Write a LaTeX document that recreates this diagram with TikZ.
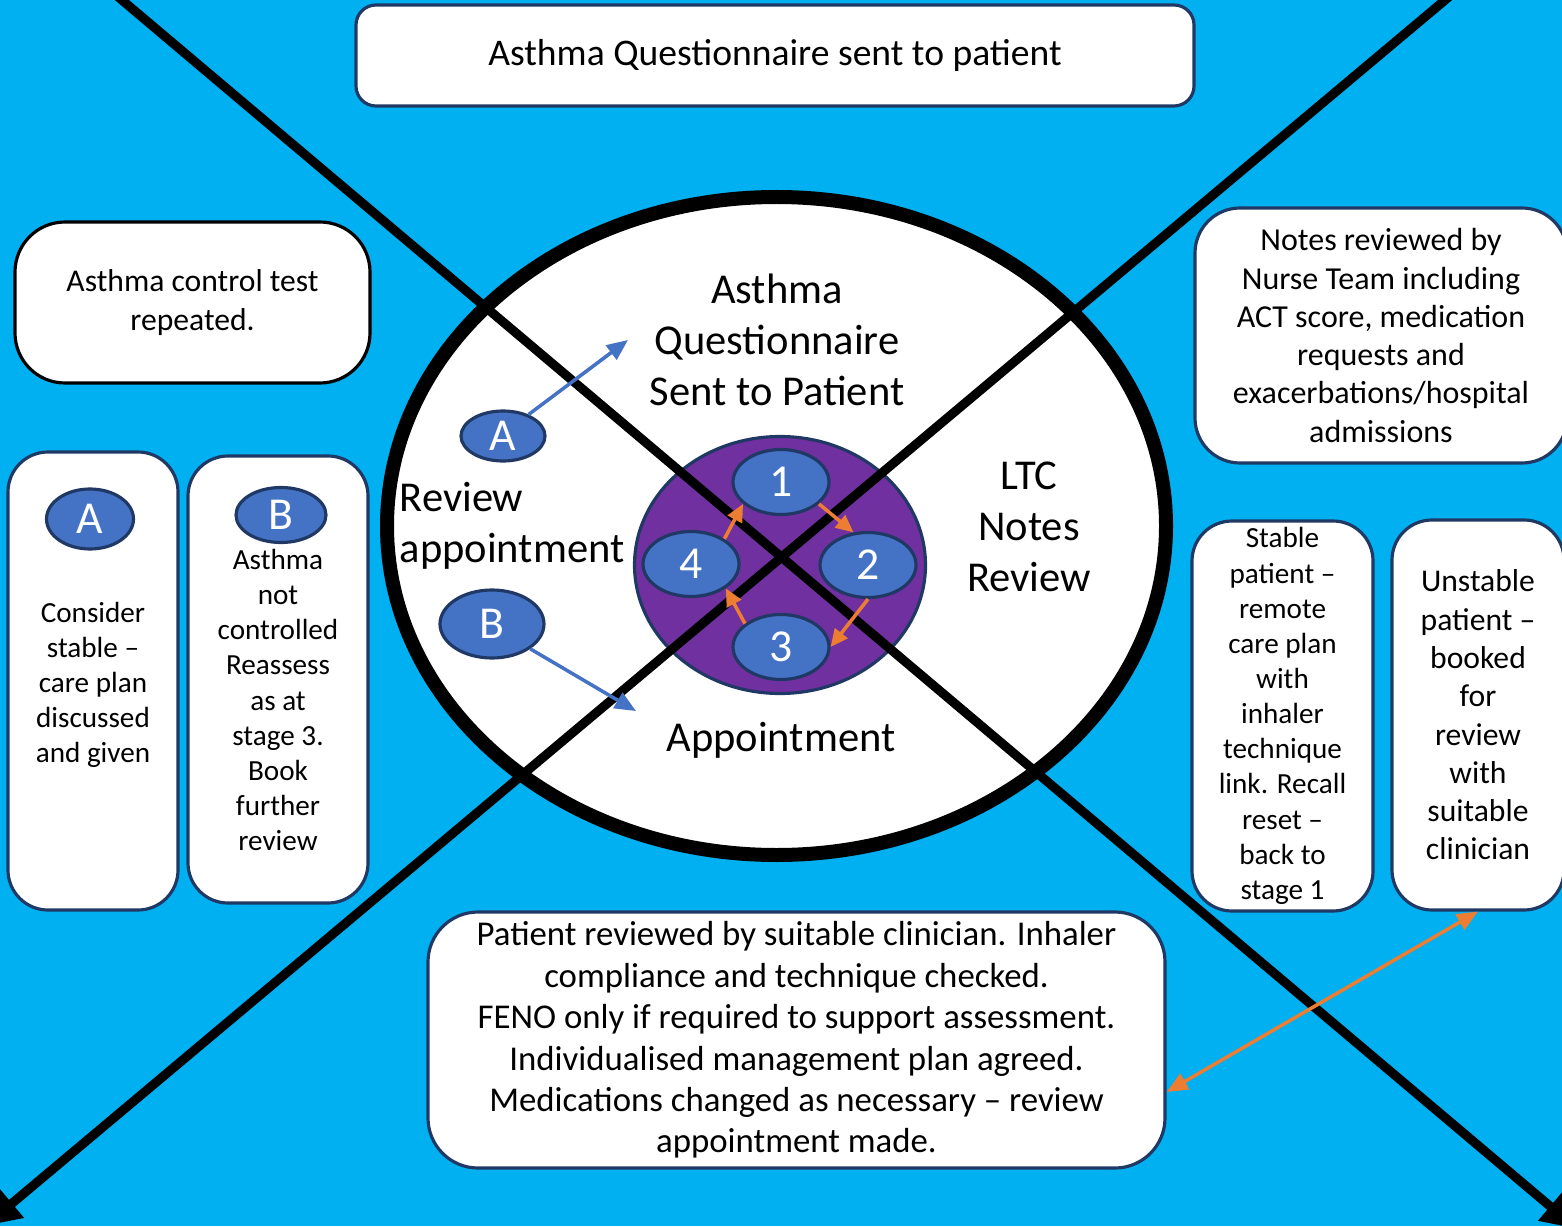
\documentclass[tikz,border=0pt]{standalone}
\usepackage{fontspec}
\setmainfont{Carlito}
\usetikzlibrary{arrows.meta,shapes.geometric}
\definecolor{skyback}{HTML}{00B0F0}
\definecolor{discblue}{HTML}{4472C4}
\definecolor{discedge}{HTML}{203864}
\definecolor{cycorange}{HTML}{ED7D31}
\definecolor{hubpurple}{HTML}{7030A0}
\newcommand{\fs}[2]{\fontsize{#1}{#2}\selectfont}

\begin{document}
\begin{tikzpicture}[x=1cm,y=1cm,box/.style={draw=discedge,fill=white,line width=.9pt,rounded corners=#1,inner sep=0pt},box/.default=.45cm,disc/.style={ellipse,draw=discedge,fill=discblue,line width=.9pt,inner sep=0pt,text=white,font=\fs{13}{15}},cyc/.style={-{Triangle[length=5pt,width=4.5pt]},draw=cycorange,line width=1pt},link/.style={-{Triangle[length=6pt,width=5pt]},draw=discblue,line width=1pt},cross/.style={-{Triangle[length=10pt,width=10pt]},line width=2.6pt}]

\useasboundingbox(0,0)rectangle(15.62,12.26);
\clip(0,0)rectangle(15.62,12.26);
\fill[skyback](0,0)rectangle(15.62,12.26);

% Wheel with the four stages round a purple hub.
\draw[fill=white,line width=.14cm](7.765,7.00)ellipse[x radius=3.895,y radius=3.29];
\draw[fill=hubpurple,draw=discedge,line width=.9pt](7.80,6.61)ellipse[x radius=1.455,y radius=1.285];
\coordinate(xtl)at(1.10,12.36);
\coordinate(xbr)at(15.77,-0.03);
\coordinate(xtr)at(14.57,12.36);
\coordinate(xbl)at(-0.15,0.00);
\draw[cross](xtl)--(xbr);
\draw[cross](xtr)--(xbl);

\node[disc,minimum width=.96cm,minimum height=.65cm](s1)at(7.81,7.44){1};
\node[disc,minimum width=.96cm,minimum height=.65cm](s2)at(8.68,6.61){2};
\node[disc,minimum width=.96cm,minimum height=.65cm](s3)at(7.81,5.79){3};
\node[disc,minimum width=.96cm,minimum height=.65cm](s4)at(6.91,6.62){4};
\draw[cyc](s1.-30)--(s2.114);
\draw[cyc](s2.south)--(s3.east);
\draw[cyc](s3.147)--(s4.-35);
\draw[cyc](s4.37)--(s1.210);

\node[disc,minimum width=.84cm,minimum height=.50cm](wa)at(5.03,7.90){A};
\node[disc,minimum width=1.04cm,minimum height=.68cm](wb)at(4.92,6.02){B};
\coordinate(wat)at(6.28,8.86);
\coordinate(wbt)at(6.36,5.15);
\draw[link](wa.40)--(wat);
\draw[link](wb.-33)--(wbt);

\node[font=\fs{12.1}{14.5},align=center](lq)at(7.77,8.86){Asthma\\Questionnaire\\Sent to Patient};
\node[font=\fs{12.1}{14.5},align=center](ll)at(10.29,6.99){LTC\\Notes\\Review};
\node[font=\fs{12.1}{14.5},align=left,anchor=west,inner sep=0pt](lr)at(3.99,7.005){Review\\appointment};
\node[font=\fs{12.1}{14.5}](lp)at(7.81,4.86){Appointment};

% Boxes round the wheel.
\node[box=.2cm,minimum width=8.38cm,minimum height=1.01cm,font=\fs{10.7}{12}](qsent)at(7.75,11.705){Asthma Questionnaire sent to patient};
\node[box=.5cm,draw=black,minimum width=3.55cm,minimum height=1.61cm,align=center,font=\fs{9}{11.1}](act)at(1.925,9.235){Asthma control test\\repeated.};

\node[box=.4cm,minimum width=1.70cm,minimum height=4.58cm](boxa)at(0.93,5.45){};
\node[box=.4cm,minimum width=1.80cm,minimum height=4.47cm](boxb)at(2.78,5.465){};
\node[disc,minimum width=.87cm,minimum height=.60cm](ka)at(0.90,7.07){A};
\node[disc,minimum width=.90cm,minimum height=.55cm](kb)at(2.81,7.11){B};
\node[align=center,font=\fs{8.3}{10}](ta)at(0.93,5.41){Consider\\stable –\\care plan\\discussed\\and given};
\node[align=center,font=\fs{8.3}{10}](tb)at(2.78,5.26){Asthma\\not\\controlled\\Reassess\\as at\\stage 3.\\Book\\further\\review};

\node[box,minimum width=3.72cm,minimum height=2.55cm,align=center,font=\fs{9.1}{10.9}](notes)at(13.81,8.905){Notes reviewed by\\Nurse Team including\\ACT score, medication\\requests and\\exacerbations/hospital\\admissions};
\node[box=.4cm,minimum width=1.81cm,minimum height=3.90cm,align=center,font=\fs{8.3}{10}](stable)at(12.825,5.10){Stable\\patient –\\remote\\care plan\\with\\inhaler\\technique\\link. Recall\\reset –\\back to\\stage 1};
\node[box=.4cm,minimum width=1.72cm,minimum height=3.90cm,align=center,font=\fs{9}{10.9}](unstable)at(14.78,5.11){Unstable\\patient –\\booked\\for\\review\\with\\suitable\\clinician};

\node[box=.5cm,minimum width=7.37cm,minimum height=2.56cm,align=center,font=\fs{9.9}{11.8}](review)at(7.965,1.86){Patient reviewed by suitable clinician. Inhaler\\compliance and technique checked.\\FENO only if required to support assessment.\\Individualised management plan agreed.\\Medications changed as necessary – review\\appointment made.};
\draw[{Triangle[length=6pt,width=5pt]}-{Triangle[length=6pt,width=5pt]},draw=cycorange,line width=1pt](review.-8.8)--(unstable.south);
\end{tikzpicture}
\end{document}
